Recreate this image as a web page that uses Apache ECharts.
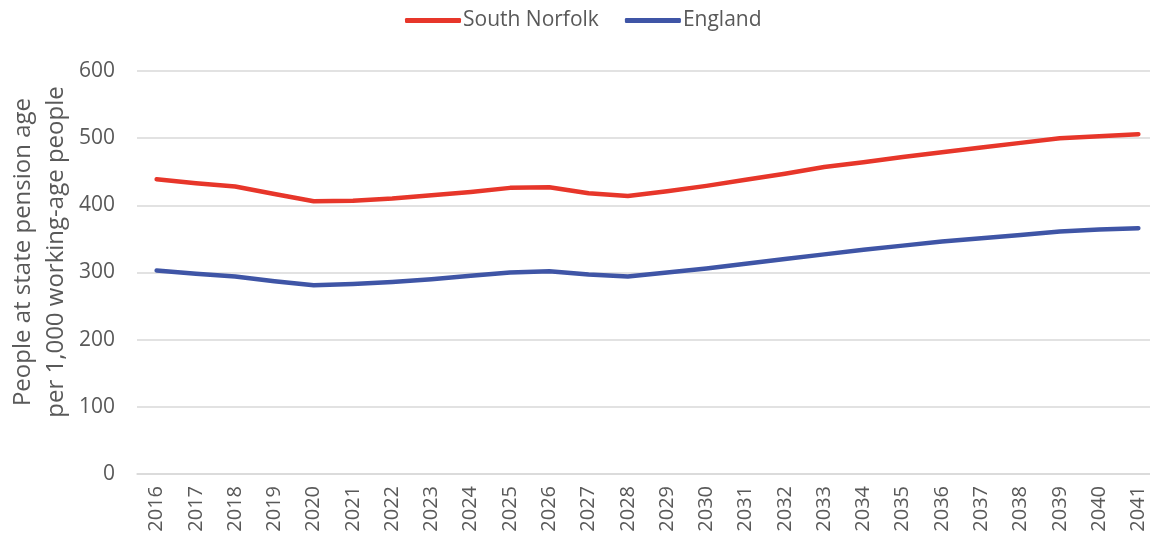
<!DOCTYPE html>
<html>
<head>
<meta charset="utf-8">
<script src="https://cdn.jsdelivr.net/npm/echarts@6/dist/echarts.min.js"></script>
<style>
  html, body { margin: 0; padding: 0; background: #fff; }
  #chart { width: 1150px; height: 540px; }
</style>
</head>
<body>
<div id="chart"></div>
<script>
// Years shown along the horizontal axis
const years = ['2016','2017','2018','2019','2020','2021','2022','2023','2024','2025','2026','2027','2028',
               '2029','2030','2031','2032','2033','2034','2035','2036','2037','2038','2039','2040','2041'];

// People at state pension age per 1,000 working-age people
const southNorfolk = [439, 433, 428, 417, 406, 407, 410, 415, 420, 426, 427, 418, 414,
                      421, 429, 438, 447, 457, 464, 472, 479, 486, 493, 500, 503, 506];
const england = [303, 298, 294, 287, 281, 283, 286, 290, 295, 300, 302, 297, 294,
                 300, 306, 313, 320, 327, 334, 340, 346, 351, 356, 361, 364, 366];

const yTicks = { min: 0, max: 600, interval: 100 };

const textColor = '#595959';
const fontFamily = '"Open Sans", sans-serif';

const chart = echarts.init(document.getElementById('chart'), null, { renderer: 'canvas' });

chart.setOption({
  animation: false,
  textStyle: { fontFamily: fontFamily, color: textColor },
  legend: {
    top: 5,
    left: 400,
    itemWidth: 56,
    itemHeight: 5,
    itemGap: 26,
    icon: 'roundRect',
    textStyle: { fontSize: 21, color: textColor, fontFamily: fontFamily, padding: [0, 0, 0, -3] },
    data: ['South Norfolk', 'England']
  },
  grid: {
    left: 137,
    top: 71,
    width: 1021,
    height: 403,
    containLabel: false,
    outerBoundsMode: 'none'
  },
  xAxis: {
    type: 'category',
    data: years,
    boundaryGap: true,
    axisLine: { show: true, lineStyle: { color: '#d9d9d9', width: 1.5 } },
    axisTick: { show: false },
    axisLabel: {
      rotate: 90,
      interval: 0,
      fontSize: 20,
      color: textColor,
      margin: 12,
      fontFamily: fontFamily
    }
  },
  yAxis: {
    type: 'value',
    min: yTicks.min,
    max: yTicks.max,
    interval: yTicks.interval,
    axisLine: { show: false },
    axisTick: { show: false },
    axisLabel: { fontSize: 21, color: textColor, margin: 22, fontFamily: fontFamily },
    splitLine: { lineStyle: { color: '#d9d9d9', width: 1.5 } }
  },
  graphic: [{
    type: 'text',
    x: 40,
    y: 252,
    rotation: Math.PI / 2,
    style: {
      text: 'People at state pension age\nper 1,000 working-age people',
      fill: textColor,
      font: '24px ' + fontFamily,
      align: 'center',
      verticalAlign: 'middle',
      lineHeight: 33
    }
  }],
  series: [
    {
      name: 'South Norfolk',
      type: 'line',
      data: southNorfolk,
      symbol: 'none',
      lineStyle: { color: '#E7362A', width: 4.5, cap: 'round', join: 'round' },
      itemStyle: { color: '#E7362A' }
    },
    {
      name: 'England',
      type: 'line',
      data: england,
      symbol: 'none',
      lineStyle: { color: '#3F55A6', width: 4.5, cap: 'round', join: 'round' },
      itemStyle: { color: '#3F55A6' }
    }
  ]
});
</script>
</body>
</html>
